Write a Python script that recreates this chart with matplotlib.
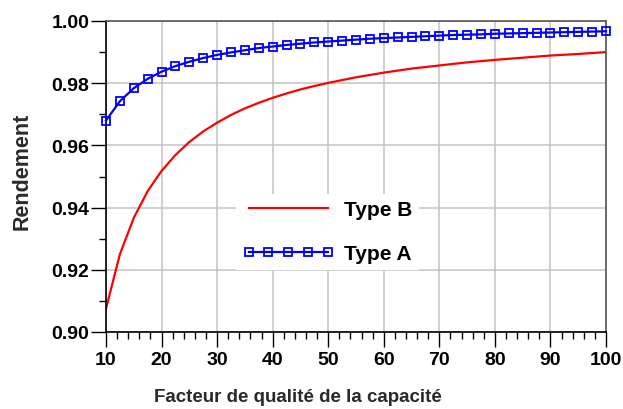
import numpy as np
import matplotlib
matplotlib.use("Agg")
import matplotlib.pyplot as plt
from matplotlib.ticker import MultipleLocator

plt.rcParams['font.family'] = ['Liberation Sans', 'DejaVu Sans']

# Data
q_a = [10, 12.5, 15, 17.5, 20, 22.5, 25, 27.5, 30, 32.5, 35, 37.5, 40, 42.5, 45,
       47.5, 50, 52.5, 55, 57.5, 60, 62.5, 65, 67.5, 70, 72.5, 75, 77.5, 80, 82.5,
       85, 87.5, 90, 92.5, 95, 97.5, 100]
eta_a = [0.9680, 0.9742, 0.9784, 0.9814, 0.9837, 0.9855, 0.9869, 0.9881, 0.9891,
         0.9899, 0.9906, 0.9913, 0.9918, 0.9923, 0.9927, 0.9931, 0.9934, 0.9937,
         0.9940, 0.9943, 0.9945, 0.9947, 0.9949, 0.9951, 0.9953, 0.9955, 0.9956,
         0.9957, 0.9959, 0.9960, 0.9961, 0.9962, 0.9963, 0.9964, 0.9965, 0.9966,
         0.9967]
q_b = [10, 12.5, 15, 17.5, 20, 22.5, 25, 27.5, 30, 32.5, 35, 37.5, 40, 42.5, 45,
       47.5, 50, 55, 60, 65, 70, 75, 80, 85, 90, 95, 100]
eta_b = [0.9075, 0.9250, 0.9367, 0.9453, 0.9518, 0.9569, 0.9611, 0.9645, 0.9673,
         0.9698, 0.9719, 0.9737, 0.9753, 0.9767, 0.9780, 0.9791, 0.9801, 0.9819,
         0.9834, 0.9847, 0.9857, 0.9867, 0.9875, 0.9882, 0.9889, 0.9894, 0.9900]

W, H = 623, 410
fig = plt.figure(figsize=(W / 100, H / 100), dpi=100)
ax = fig.add_axes([106 / W, 1 - 333 / H, 500 / W, 311 / H])

ax.plot(q_b, eta_b, color='#ff0000', lw=1.6, label='Type B')
ax.plot(q_a, eta_a, color='#0000ff', lw=1.6, marker='s', ms=5.5, mfc='none',
        mew=1.3, clip_on=False, label='Type A', zorder=4)

ax.set_xlim(10, 100)
ax.set_ylim(0.90, 1.00)
ax.xaxis.set_major_locator(MultipleLocator(10))
ax.xaxis.set_minor_locator(MultipleLocator(2))
ax.yaxis.set_major_locator(MultipleLocator(0.02))
ax.yaxis.set_minor_locator(MultipleLocator(0.01))
ax.yaxis.set_major_formatter(plt.FormatStrFormatter('%.2f'))

ax.grid(True, which='major', color='#c4c4c4', lw=1.1)
ax.set_axisbelow(True)

ax.tick_params(which='major', direction='out', length=11, width=1, color='black',
               labelsize=14)
ax.tick_params(which='minor', direction='out', length=5, width=1, color='black')
ax.tick_params(axis='y', pad=1)
ax.tick_params(axis='x', pad=3)
for lab in ax.get_xticklabels() + ax.get_yticklabels():
    lab.set_fontweight('bold')

for side in ['left', 'bottom']:
    ax.spines[side].set_color('black')
    ax.spines[side].set_linewidth(1.2)
for side in ['top', 'right']:
    ax.spines[side].set_color('#555555')
    ax.spines[side].set_linewidth(1.2)

ax.text((298 - 106) / 500, (333 - 398) / 311, 'Facteur de qualité de la capacité',
        transform=ax.transAxes, ha='center', va='center', fontsize=13.5,
        fontweight='bold', color='#2a2a2a')
ax.text((22 - 106) / 500, (333 - 171) / 311, 'Rendement', rotation=90,
        transform=ax.transAxes, ha='center', va='center', fontsize=15.5,
        fontweight='bold', color='#2a2a2a')

handles, labels = ax.get_legend_handles_labels()
leg = ax.legend(handles, labels, loc='upper left',
                bbox_to_anchor=(236 / W, 1 - 195 / H),
                bbox_transform=fig.transFigure, borderaxespad=0,
                prop={'weight': 'bold', 'size': 15}, handlelength=4.4,
                handletextpad=0.5, labelspacing=1.2, borderpad=0.3,
                numpoints=5, frameon=True, fancybox=False, framealpha=1,
                facecolor='white', edgecolor='none')

fig.savefig('out.png', dpi=100)
